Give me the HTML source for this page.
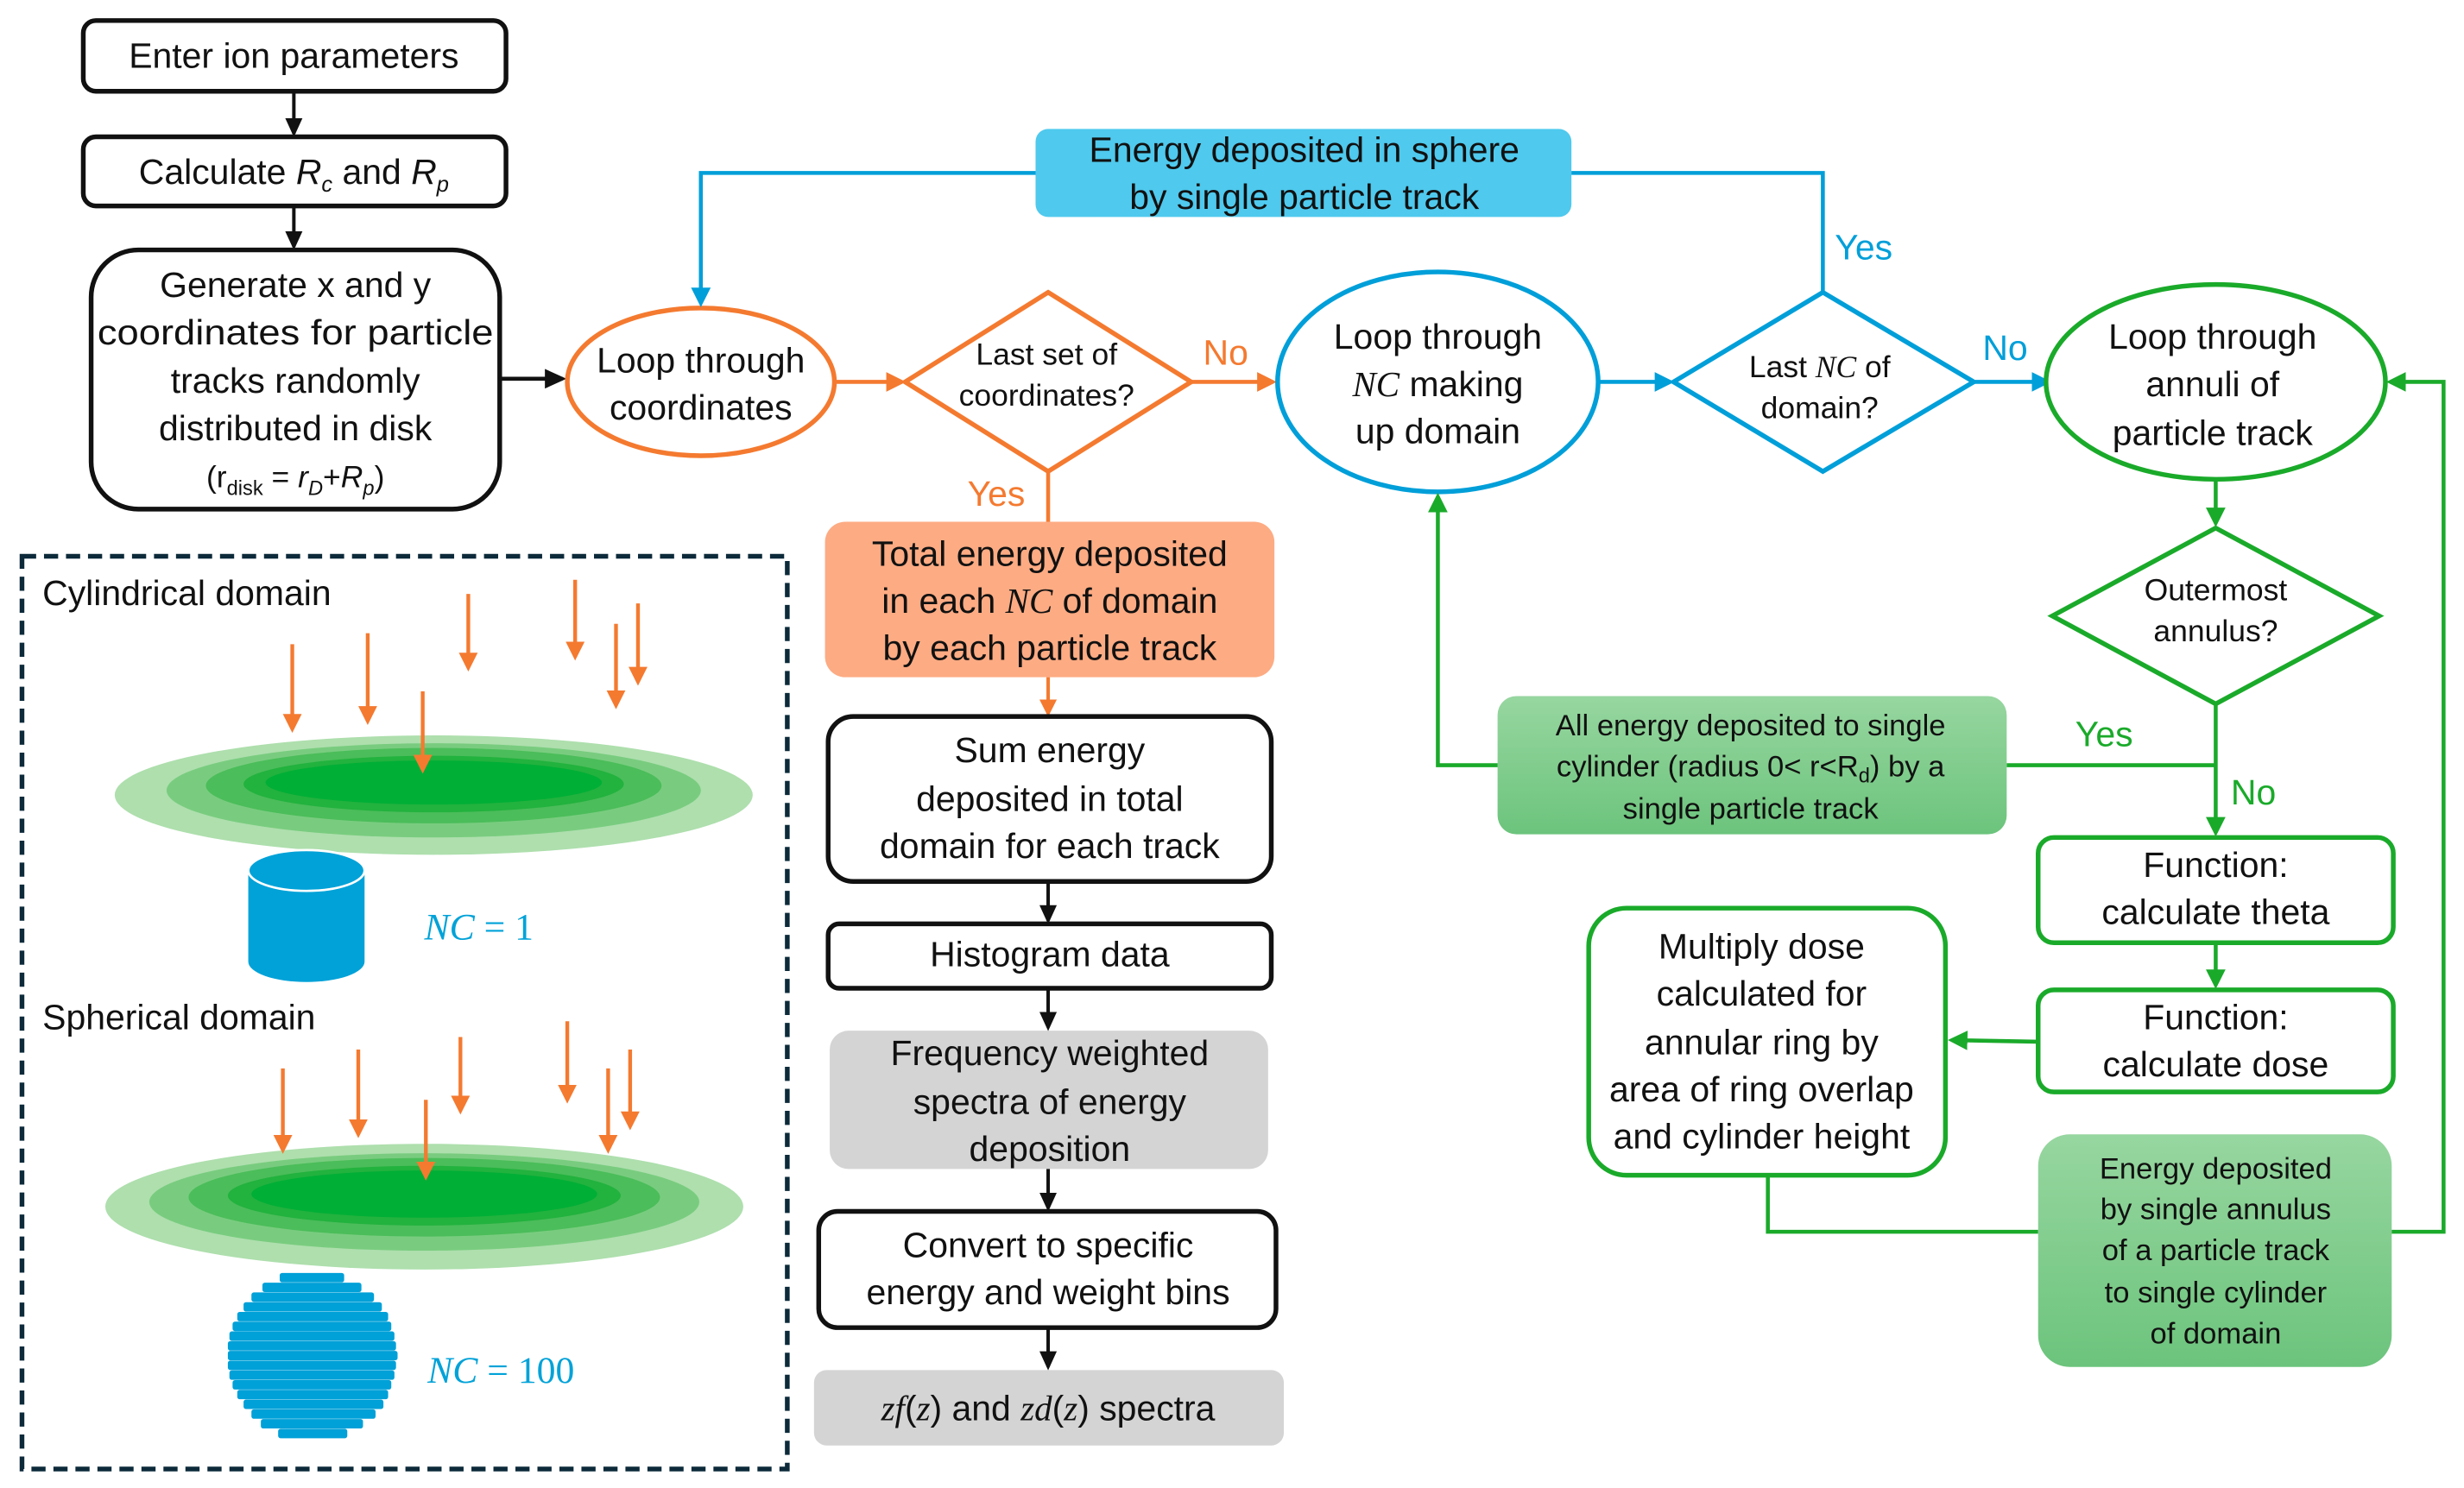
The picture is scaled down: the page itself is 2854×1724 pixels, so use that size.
<!DOCTYPE html>
<html><head><meta charset="utf-8"><style>
html,body{margin:0;padding:0;background:#fff;}
svg{display:block;}
text{font-family:"Liberation Sans",sans-serif;font-size:22.5px;fill:#111;text-anchor:middle;}
.s{font-size:19.5px;}
.g{font-size:19px;}
.i{font-family:"Liberation Serif",serif;font-style:italic;}
</style></head><body>
<svg width="2854" height="1724" viewBox="0 0 1568 947" xmlns="http://www.w3.org/2000/svg">
<defs>
<marker id="ak" markerWidth="5.5" markerHeight="5" refX="4.5" refY="2.5" orient="auto" markerUnits="strokeWidth"><path d="M0,0 L5.5,2.5 L0,5 z" fill="#111"/></marker>
<marker id="ao" markerWidth="5" markerHeight="5" refX="4" refY="2.5" orient="auto" markerUnits="strokeWidth"><path d="M0,0 L5,2.5 L0,5 z" fill="#f47a30"/></marker>
<marker id="ab" markerWidth="5" markerHeight="5" refX="4" refY="2.5" orient="auto" markerUnits="strokeWidth"><path d="M0,0 L5,2.5 L0,5 z" fill="#009fd9"/></marker>
<marker id="ag" markerWidth="5" markerHeight="5" refX="4" refY="2.5" orient="auto" markerUnits="strokeWidth"><path d="M0,0 L5,2.5 L0,5 z" fill="#1aaa2a"/></marker>
<marker id="aa" markerWidth="5" markerHeight="5" refX="4" refY="2.5" orient="auto" markerUnits="strokeWidth"><path d="M0,0 L5,2.5 L0,5 z" fill="#f47a30"/></marker>
<linearGradient id="gg" x1="0" y1="0" x2="0" y2="1"><stop offset="0" stop-color="#97d6a0"/><stop offset="1" stop-color="#6cc47c"/></linearGradient>
</defs>

<g fill="none" stroke="#111" stroke-width="3">
<rect x="53" y="13" width="269" height="45" rx="8" fill="#fff"/>
<rect x="53" y="87" width="269" height="44" rx="8" fill="#fff"/>
<rect x="58" y="159" width="260" height="165" rx="30" fill="#fff"/>
<line x1="187" y1="58" x2="187" y2="85" marker-end="url(#ak)" stroke-width="2.2"/>
<line x1="187" y1="131" x2="187" y2="157" marker-end="url(#ak)" stroke-width="2.2"/>
<line x1="318" y1="241" x2="358" y2="241" marker-end="url(#ak)" stroke-width="2.5"/>
</g>
<text x="187" y="43">Enter ion parameters</text>
<text x="187" y="117">Calculate <tspan font-style="italic">R</tspan><tspan font-style="italic" font-size="14" dy="5">c</tspan><tspan dy="-5"> and </tspan><tspan font-style="italic">R</tspan><tspan font-style="italic" font-size="14" dy="5">p</tspan></text>
<text x="188" y="189">Generate x and y</text>
<text x="188" y="219" textLength="252" lengthAdjust="spacingAndGlyphs">coordinates for particle</text>
<text x="188" y="250">tracks randomly</text>
<text x="188" y="280">distributed in disk</text>
<text x="188" y="310" class="s">(r<tspan font-size="13" dy="5">disk</tspan><tspan dy="-5"> = </tspan><tspan font-style="italic">r</tspan><tspan font-style="italic" font-size="13" dy="5">D</tspan><tspan dy="-5">+</tspan><tspan font-style="italic">R</tspan><tspan font-style="italic" font-size="13" dy="5">p</tspan><tspan dy="-5">)</tspan></text>

<ellipse cx="446" cy="243" rx="85" ry="47" fill="#fff" stroke="#f47a30" stroke-width="3"/>
<text x="446" y="237">Loop through</text>
<text x="446" y="267">coordinates</text>
<line x1="531" y1="243" x2="574" y2="243" stroke="#f47a30" stroke-width="2.5" marker-end="url(#ao)"/>
<polygon points="667,186 758,243 667,300 576,243" fill="#fff" stroke="#f47a30" stroke-width="3"/>
<text x="666" y="232" class="s">Last set of</text>
<text x="666" y="258" class="s">coordinates?</text>
<text x="780" y="232" style="fill:#f47a30">No</text>
<line x1="758" y1="243" x2="810" y2="243" stroke="#f47a30" stroke-width="2.5" marker-end="url(#ao)"/>
<text x="634" y="322" style="fill:#f47a30">Yes</text>
<line x1="667" y1="300" x2="667" y2="332" stroke="#f47a30" stroke-width="2.5"/>
<rect x="525" y="332" width="286" height="99" rx="13" fill="#fdab83"/>
<text x="668" y="360">Total energy deposited</text>
<text x="668" y="390">in each <tspan class="i">NC</tspan> of domain</text>
<text x="668" y="420">by each particle track</text>
<line x1="667" y1="431" x2="667" y2="454" stroke="#f47a30" stroke-width="2.2" marker-end="url(#aa)"/>

<g fill="#fff" stroke="#111" stroke-width="3">
<rect x="527" y="456" width="282" height="105" rx="16"/>
<rect x="527" y="588" width="282" height="41" rx="7"/>
<rect x="521" y="771" width="291" height="74" rx="12"/>
</g>
<rect x="528" y="656" width="279" height="88" rx="12" fill="#d4d4d4"/>
<rect x="518" y="872" width="299" height="48" rx="8" fill="#d4d4d4"/>
<g stroke="#111" stroke-width="2.2">
<line x1="667" y1="561" x2="667" y2="586" marker-end="url(#ak)"/>
<line x1="667" y1="629" x2="667" y2="654" marker-end="url(#ak)"/>
<line x1="667" y1="744" x2="667" y2="769" marker-end="url(#ak)"/>
<line x1="667" y1="845" x2="667" y2="870" marker-end="url(#ak)"/>
</g>
<text x="668" y="485">Sum energy</text>
<text x="668" y="516">deposited in total</text>
<text x="668" y="546">domain for each track</text>
<text x="668" y="615">Histogram data</text>
<text x="668" y="678">Frequency weighted</text>
<text x="668" y="709">spectra of energy</text>
<text x="668" y="739">deposition</text>
<text x="667" y="800">Convert to specific</text>
<text x="667" y="830">energy and weight bins</text>
<text x="667" y="904"><tspan class="i">zf</tspan>(<tspan class="i">z</tspan>) and <tspan class="i">zd</tspan>(<tspan class="i">z</tspan>) spectra</text>

<rect x="659" y="82" width="341" height="56" rx="8" fill="#4fc9ed"/>
<text x="830" y="103">Energy deposited in sphere</text>
<text x="830" y="133">by single particle track</text>
<polyline points="1160,186 1160,110 1000,110" fill="none" stroke="#009fd9" stroke-width="2.5"/>
<polyline points="659,110 446,110 446,193" fill="none" stroke="#009fd9" stroke-width="2.5" marker-end="url(#ab)"/>
<text x="1186" y="165" style="fill:#009fd9">Yes</text>
<ellipse cx="915" cy="243" rx="102" ry="70" fill="#fff" stroke="#009fd9" stroke-width="3"/>
<text x="915" y="222">Loop through</text>
<text x="915" y="252"><tspan class="i">NC</tspan> making</text>
<text x="915" y="282">up domain</text>
<line x1="1018" y1="243" x2="1063" y2="243" stroke="#009fd9" stroke-width="2.5" marker-end="url(#ab)"/>
<polygon points="1160,186 1256,243 1160,300 1065,243" fill="#fff" stroke="#009fd9" stroke-width="3"/>
<text x="1158" y="240" class="s">Last <tspan class="i">NC</tspan> of</text>
<text x="1158" y="266" class="s">domain?</text>
<text x="1276" y="229" style="fill:#009fd9">No</text>
<line x1="1256" y1="243" x2="1303" y2="243" stroke="#009fd9" stroke-width="2.5" marker-end="url(#ab)"/>

<ellipse cx="1410" cy="243" rx="108" ry="62" fill="#fff" stroke="#1aaa2a" stroke-width="3"/>
<text x="1408" y="222">Loop through</text>
<text x="1408" y="252">annuli of</text>
<text x="1408" y="283">particle track</text>
<line x1="1410" y1="305" x2="1410" y2="333" stroke="#1aaa2a" stroke-width="2.5" marker-end="url(#ag)"/>
<polygon points="1410,336 1514,392 1410,448 1306,392" fill="#fff" stroke="#1aaa2a" stroke-width="3"/>
<text x="1410" y="382" class="s">Outermost</text>
<text x="1410" y="408" class="s">annulus?</text>
<line x1="1410" y1="448" x2="1410" y2="530" stroke="#1aaa2a" stroke-width="2.5" marker-end="url(#ag)"/>
<text x="1339" y="475" style="fill:#1aaa2a">Yes</text>
<text x="1434" y="512" style="fill:#1aaa2a">No</text>
<line x1="1410" y1="487" x2="1277" y2="487" stroke="#1aaa2a" stroke-width="2.5"/>
<rect x="953" y="443" width="324" height="88" rx="12" fill="url(#gg)"/>
<text x="1114" y="468" class="g">All energy deposited to single</text>
<text x="1114" y="494" class="g">cylinder (radius 0&lt; r&lt;R<tspan font-size="13" dy="4">d</tspan><tspan dy="-4">) by a</tspan></text>
<text x="1114" y="521" class="g">single particle track</text>
<polyline points="953,487 915,487 915,316" fill="none" stroke="#1aaa2a" stroke-width="2.5" marker-end="url(#ag)"/>
<g fill="#fff" stroke="#1aaa2a" stroke-width="3">
<rect x="1297" y="533" width="226" height="67" rx="10"/>
<rect x="1297" y="630" width="226" height="65" rx="10"/>
<rect x="1011" y="578" width="227" height="170" rx="24"/>
</g>
<line x1="1410" y1="600" x2="1410" y2="627" stroke="#1aaa2a" stroke-width="2.5" marker-end="url(#ag)"/>
<line x1="1297" y1="663" x2="1242" y2="662" stroke="#1aaa2a" stroke-width="2.5" marker-end="url(#ag)"/>
<text x="1410" y="558">Function:</text>
<text x="1410" y="588">calculate theta</text>
<text x="1410" y="655">Function:</text>
<text x="1410" y="685">calculate dose</text>
<text x="1121" y="610">Multiply dose</text>
<text x="1121" y="640">calculated for</text>
<text x="1121" y="671">annular ring by</text>
<text x="1121" y="701">area of ring overlap</text>
<text x="1121" y="731">and cylinder height</text>
<polyline points="1125,748 1125,784 1297,784" fill="none" stroke="#1aaa2a" stroke-width="2.5"/>
<rect x="1297" y="722" width="225" height="148" rx="20" fill="url(#gg)"/>
<text x="1410" y="750" class="g">Energy deposited</text>
<text x="1410" y="776" class="g">by single annulus</text>
<text x="1410" y="802" class="g">of a particle track</text>
<text x="1410" y="829" class="g">to single cylinder</text>
<text x="1410" y="855" class="g">of domain</text>
<polyline points="1522,784 1555,784 1555,243 1521,243" fill="none" stroke="#1aaa2a" stroke-width="2.5" marker-end="url(#ag)"/>

<rect x="14" y="354" width="487" height="581" fill="none" stroke="#0c2a3a" stroke-width="3" stroke-dasharray="9,5"/>
<text x="27" y="385" style="text-anchor:start">Cylindrical domain</text>
<ellipse cx="276" cy="506" rx="203" ry="38" fill="#aedfad"/>
<ellipse cx="276" cy="503" rx="170" ry="30" fill="#79cc7f"/>
<ellipse cx="276" cy="500" rx="145" ry="24" fill="#4bbd5a"/>
<ellipse cx="276" cy="499" rx="121" ry="18" fill="#22b23e"/>
<ellipse cx="276" cy="498" rx="107" ry="14" fill="#00af36"/>
<g stroke="#f47a30" stroke-width="2.4">
<line x1="186" y1="410" x2="186" y2="464" marker-end="url(#aa)"/>
<line x1="234" y1="403" x2="234" y2="459" marker-end="url(#aa)"/>
<line x1="298" y1="378" x2="298" y2="425" marker-end="url(#aa)"/>
<line x1="366" y1="369" x2="366" y2="418" marker-end="url(#aa)"/>
<line x1="392" y1="397" x2="392" y2="449" marker-end="url(#aa)"/>
<line x1="406" y1="384" x2="406" y2="434" marker-end="url(#aa)"/>
<line x1="269" y1="440" x2="269" y2="490" marker-end="url(#aa)"/>
</g>
<path d="M158,555 L158,612 A37,13 0 0 0 232,612 L232,555 z" fill="#00a2d8"/>
<ellipse cx="195" cy="554" rx="37" ry="13" fill="#00a2d8" stroke="#fff" stroke-width="1.5"/>
<text x="270" y="598" class="i" style="fill:#00a2d8;font-size:24px;text-anchor:start">NC <tspan font-style="normal">= 1</tspan></text>

<text x="27" y="655" style="text-anchor:start">Spherical domain</text>
<ellipse cx="270" cy="768" rx="203" ry="40" fill="#aedfad"/>
<ellipse cx="270" cy="765" rx="175" ry="31" fill="#79cc7f"/>
<ellipse cx="270" cy="762" rx="150" ry="25" fill="#4bbd5a"/>
<ellipse cx="270" cy="761" rx="125" ry="19" fill="#22b23e"/>
<ellipse cx="270" cy="760" rx="110" ry="15" fill="#00af36"/>
<g stroke="#f47a30" stroke-width="2.4">
<line x1="180" y1="680" x2="180" y2="732" marker-end="url(#aa)"/>
<line x1="228" y1="668" x2="228" y2="722" marker-end="url(#aa)"/>
<line x1="293" y1="660" x2="293" y2="707" marker-end="url(#aa)"/>
<line x1="361" y1="650" x2="361" y2="700" marker-end="url(#aa)"/>
<line x1="387" y1="680" x2="387" y2="732" marker-end="url(#aa)"/>
<line x1="401" y1="668" x2="401" y2="717" marker-end="url(#aa)"/>
<line x1="271" y1="700" x2="271" y2="749" marker-end="url(#aa)"/>
</g>
<g fill="#00a0d8">
<rect x="178" y="810.2" width="41" height="6" rx="1.5"/>
<rect x="167" y="816.4" width="63" height="6" rx="1.5"/>
<rect x="160" y="822.6" width="78" height="6" rx="1.5"/>
<rect x="155" y="828.8" width="88" height="6" rx="1.5"/>
<rect x="151" y="835" width="96" height="6" rx="1.5"/>
<rect x="148" y="841.2" width="101" height="6" rx="1.5"/>
<rect x="146" y="847.4" width="105" height="6" rx="1.5"/>
<rect x="145" y="853.6" width="107" height="6" rx="1.5"/>
<rect x="145" y="859.8" width="108" height="6" rx="1.5"/>
<rect x="145" y="866" width="107" height="6" rx="1.5"/>
<rect x="146" y="872.2" width="105" height="6" rx="1.5"/>
<rect x="148" y="878.4" width="101" height="6" rx="1.5"/>
<rect x="151" y="884.6" width="96" height="6" rx="1.5"/>
<rect x="155" y="890.8" width="89" height="6" rx="1.5"/>
<rect x="160" y="897" width="79" height="6" rx="1.5"/>
<rect x="166" y="903.2" width="65" height="6" rx="1.5"/>
<rect x="177" y="909.4" width="44" height="6" rx="1.5"/>
</g>
<text x="272" y="880" class="i" style="fill:#00a2d8;font-size:24px;text-anchor:start">NC <tspan font-style="normal">= 100</tspan></text>
</svg>
</body></html>
